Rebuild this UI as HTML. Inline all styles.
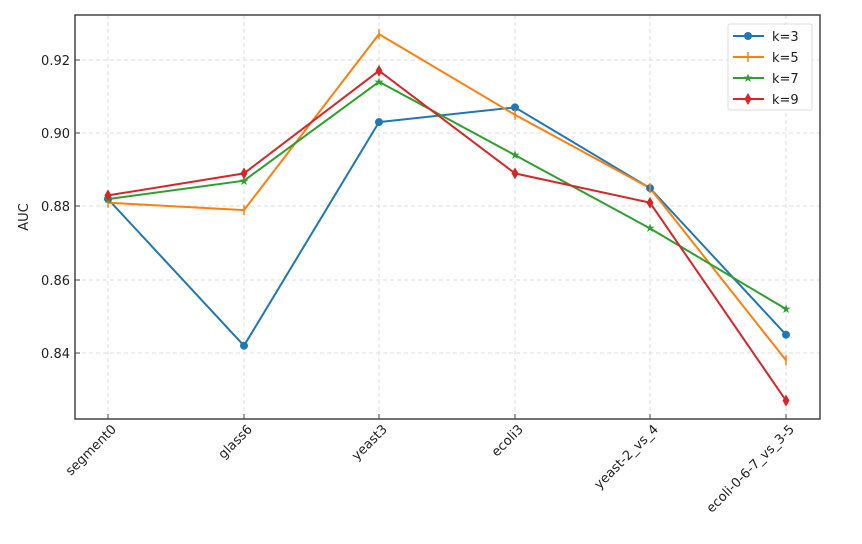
<!DOCTYPE html><html><head><style>body{margin:0;background:#fff}text{font-family:"DejaVu Sans","Liberation Sans",sans-serif;fill:#222}</style></head><body>
<svg width="862" height="539" xmlns="http://www.w3.org/2000/svg">
<g stroke="#ddd" stroke-dasharray="4,3" stroke-width="1">
<line x1="108" y1="15" x2="108" y2="419"/><line x1="244" y1="15" x2="244" y2="419"/><line x1="379" y1="15" x2="379" y2="419"/><line x1="515" y1="15" x2="515" y2="419"/><line x1="650" y1="15" x2="650" y2="419"/><line x1="786" y1="15" x2="786" y2="419"/>
<line x1="75" y1="60" x2="820" y2="60"/><line x1="75" y1="133" x2="820" y2="133"/><line x1="75" y1="206" x2="820" y2="206"/><line x1="75" y1="280" x2="820" y2="280"/><line x1="75" y1="353" x2="820" y2="353"/>
</g>
<rect x="75" y="15" width="745" height="404" fill="none" stroke="#444" stroke-width="1.5"/>
<g stroke="#444" stroke-width="1">
<line x1="75" y1="60" x2="80" y2="60"/><line x1="75" y1="133" x2="80" y2="133"/><line x1="75" y1="206" x2="80" y2="206"/><line x1="75" y1="280" x2="80" y2="280"/><line x1="75" y1="353" x2="80" y2="353"/>
<line x1="108" y1="419" x2="108" y2="414"/><line x1="244" y1="419" x2="244" y2="414"/><line x1="379" y1="419" x2="379" y2="414"/><line x1="515" y1="419" x2="515" y2="414"/><line x1="650" y1="419" x2="650" y2="414"/><line x1="786" y1="419" x2="786" y2="414"/>
</g>
<g font-size="13" text-anchor="end">
<text x="70" y="65">0.92</text><text x="70" y="138">0.90</text><text x="70" y="211">0.88</text><text x="70" y="285">0.86</text><text x="70" y="358">0.84</text>
</g>
<text x="28" y="217" font-size="13" text-anchor="middle" transform="rotate(-90 28 217)">AUC</text>
<g font-size="13" text-anchor="end">
<text transform="translate(117,430) rotate(-45)">segment0</text>
<text transform="translate(253,430) rotate(-45)">glass6</text>
<text transform="translate(388,430) rotate(-45)">yeast3</text>
<text transform="translate(524,430) rotate(-45)">ecoli3</text>
<text transform="translate(659,430) rotate(-45)">yeast-2_vs_4</text>
<text transform="translate(795,430) rotate(-45)">ecoli-0-6-7_vs_3-5</text>
</g>
<g fill="none" stroke-width="2">
<polyline stroke="#1f77b4" points="108,199.1 244,345.7 379,122.1 515,107.4 650,188.1 786,334.7"/>
<polyline stroke="#ff7f0e" points="108,202.7 244,210.1 379,34.1 515,114.8 650,188.1 786,360.3"/>
<polyline stroke="#2ca02c" points="108,199.1 244,180.7 379,81.8 515,155.1 650,228.4 786,309"/>
<polyline stroke="#d62728" points="108,195.4 244,173.4 379,70.8 515,173.4 650,202.7 786,400.6"/>
</g>
<g fill="#1f77b4"><circle cx="108" cy="199.1" r="4"/><circle cx="244" cy="345.7" r="4"/><circle cx="379" cy="122.1" r="4"/><circle cx="515" cy="107.4" r="4"/><circle cx="650" cy="188.1" r="4"/><circle cx="786" cy="334.7" r="4"/></g>
<g stroke="#ff7f0e" stroke-width="1.5"><path d="M108,197.7v10M244,205.1v10M379,29.1v10M515,109.8v10M650,183.1v10M786,355.3v10"/></g>
<g fill="#2ca02c" font-size="12" text-anchor="middle"><text x="108" y="203" style="fill:#2ca02c">★</text><text x="244" y="185" style="fill:#2ca02c">★</text><text x="379" y="86" style="fill:#2ca02c">★</text><text x="515" y="159" style="fill:#2ca02c">★</text><text x="650" y="232" style="fill:#2ca02c">★</text><text x="786" y="313" style="fill:#2ca02c">★</text></g>
<g fill="#d62728"><path d="M108,189.4l3.5,6-3.5,6-3.5-6z"/><path d="M244,167.4l3.5,6-3.5,6-3.5-6z"/><path d="M379,64.8l3.5,6-3.5,6-3.5-6z"/><path d="M515,167.4l3.5,6-3.5,6-3.5-6z"/><path d="M650,196.7l3.5,6-3.5,6-3.5-6z"/><path d="M786,394.6l3.5,6-3.5,6-3.5-6z"/></g>
<rect x="728" y="24" width="84" height="86" fill="#fff" stroke="#ddd" rx="2"/>
<g stroke-width="2"><line x1="733" y1="36" x2="764" y2="36" stroke="#1f77b4"/><line x1="733" y1="57" x2="764" y2="57" stroke="#ff7f0e"/><line x1="733" y1="78" x2="764" y2="78" stroke="#2ca02c"/><line x1="733" y1="99" x2="764" y2="99" stroke="#d62728"/></g>
<circle cx="748" cy="36" r="4" fill="#1f77b4"/><path d="M748,52v10" stroke="#ff7f0e" stroke-width="1.5"/>
<text x="748" y="82" font-size="12" text-anchor="middle" style="fill:#2ca02c">★</text>
<path d="M748,93l3.5,6-3.5,6-3.5-6z" fill="#d62728"/>
<g font-size="13"><text x="772" y="41">k=3</text><text x="772" y="62">k=5</text><text x="772" y="83">k=7</text><text x="772" y="104">k=9</text></g>
</svg></body></html>
